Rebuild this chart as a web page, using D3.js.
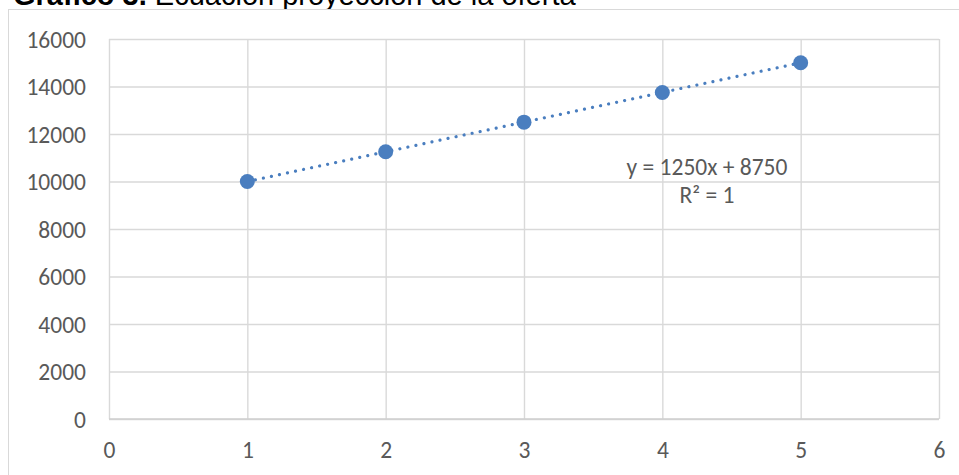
<!DOCTYPE html>
<html>
<head>
<meta charset="utf-8">
<script src="https://cdn.jsdelivr.net/npm/d3@7"></script>
<style>
  html, body { margin: 0; padding: 0; background: #fff; overflow: hidden; }
  svg { display: block; }
</style>
</head>
<body>
<svg id="chart" width="959" height="475"></svg>
<script>
// Oferta proyectada por periodo
const periods = [1, 2, 3, 4, 5];
const supply = [10000, 11250, 12500, 13750, 15000];
const xTicks = [0, 1, 2, 3, 4, 5, 6];
const yTicks = [0, 2000, 4000, 6000, 8000, 10000, 12000, 14000, 16000];
const trendSlope = 1250;
const trendIntercept = 8750;
const trendLabel = "y = 1250x + 8750";
const r2Label = "R² = 1";
const titleBold = "Gráfico 3.";
const titleRest = " Ecuación proyección de la oferta";

const svg = d3.select("#chart");
const font = "Carlito, Calibri, 'Liberation Sans', Arial, sans-serif";
const fontSize = 23.5;
const blue = "#4a7ebf";
const grid = "#d9d9d9";
const textCol = "#595959";

// Title (Arial-style)
const title = svg.append("text")
  .attr("x", 13).attr("y", 5)
  .attr("font-family", "'Liberation Sans', Arial, sans-serif")
  .attr("font-size", 29)
  .attr("fill", "#000");
title.append("tspan").attr("font-weight", "bold").text(titleBold);
title.append("tspan").text(titleRest);

// Chart frame
svg.append("rect")
  .attr("x", 8.5).attr("y", 9.5)
  .attr("width", 1000).attr("height", 1000)
  .attr("fill", "#fff")
  .attr("stroke", grid).attr("stroke-width", 1);

const plot = { left: 109, right: 939, top: 39, bottom: 419 };

const x = d3.scaleLinear().domain([0, 6]).range([plot.left, plot.right]);
const y = d3.scaleLinear().domain([0, 16000]).range([plot.bottom, plot.top]);

// Horizontal gridlines + y labels
const yAxis = d3.axisLeft(y).tickValues(yTicks).tickSize(0).tickPadding(0)
  .tickFormat(d3.format("d"));
const gy = svg.append("g").attr("transform", `translate(${plot.left},0)`).call(yAxis);
gy.select(".domain").remove();
gy.selectAll(".tick line").remove();
gy.selectAll(".tick").append("line")
  .attr("x1", 0).attr("x2", plot.right - plot.left)
  .attr("stroke", grid).attr("stroke-width", 1.4);
gy.selectAll(".tick text")
  .attr("x", -23).attr("dy", "0.35em")
  .attr("font-family", font).attr("font-size", fontSize).attr("fill", textCol);

// Vertical gridlines + x labels
const xAxis = d3.axisBottom(x).tickValues(xTicks).tickSize(0).tickPadding(0)
  .tickFormat(d3.format("d"));
const gx = svg.append("g").attr("transform", `translate(0,${plot.bottom})`).call(xAxis);
gx.select(".domain").remove();
gx.selectAll(".tick").append("line")
  .attr("y1", 0).attr("y2", plot.top - plot.bottom)
  .attr("stroke", grid).attr("stroke-width", 1.4);
gx.selectAll(".tick text")
  .attr("y", 39).attr("dy", 0)
  .attr("font-family", font).attr("font-size", fontSize).attr("fill", textCol);

// Bottom axis line
svg.append("line")
  .attr("x1", plot.left).attr("x2", plot.right)
  .attr("y1", plot.bottom).attr("y2", plot.bottom)
  .attr("stroke", "#cfcfcf").attr("stroke-width", 1.6);

// Linear trendline (dotted)
const xMin = d3.min(periods), xMax = d3.max(periods);
svg.append("line")
  .attr("x1", x(xMin)).attr("y1", y(trendSlope * xMin + trendIntercept))
  .attr("x2", x(xMax)).attr("y2", y(trendSlope * xMax + trendIntercept))
  .attr("stroke", blue).attr("stroke-width", 3.2)
  .attr("stroke-linecap", "round")
  .attr("stroke-dasharray", "0.01 8.2");

// Data points
svg.append("g").selectAll("circle")
  .data(periods.map((p, i) => ({ p, v: supply[i] })))
  .join("circle")
  .attr("cx", d => x(d.p)).attr("cy", d => y(d.v))
  .attr("r", 7.5)
  .attr("fill", blue);

// Trendline equation
svg.append("text")
  .attr("x", 707).attr("y", 175)
  .attr("text-anchor", "middle")
  .attr("font-family", font).attr("font-size", fontSize).attr("fill", textCol)
  .text(trendLabel);
svg.append("text")
  .attr("x", 707).attr("y", 203)
  .attr("text-anchor", "middle")
  .attr("font-family", font).attr("font-size", fontSize).attr("fill", textCol)
  .text(r2Label);
</script>
</body>
</html>
